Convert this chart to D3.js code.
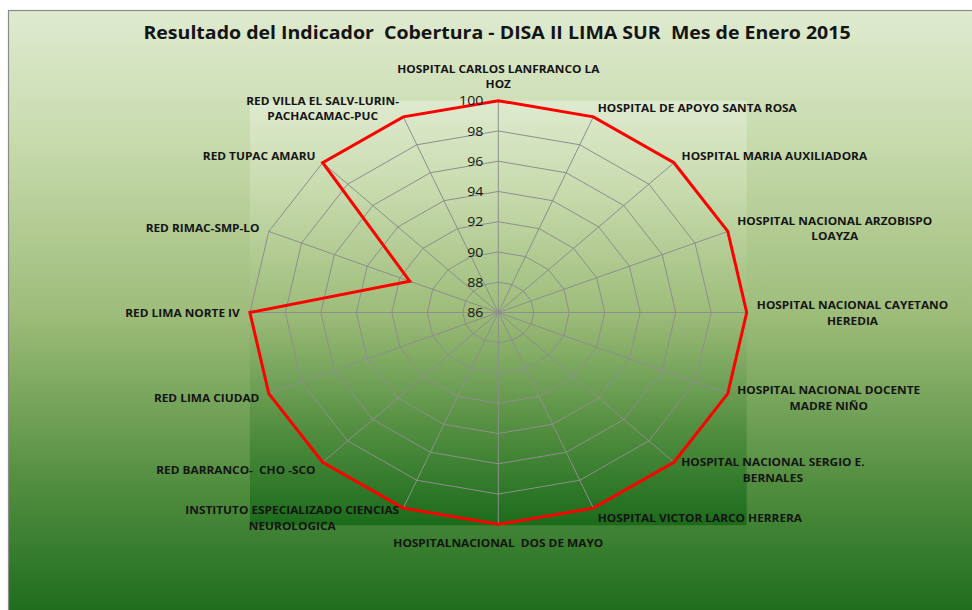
<!DOCTYPE html>
<html>
<head>
<meta charset="utf-8">
<script src="https://cdn.jsdelivr.net/npm/d3@7.9.0/dist/d3.min.js"></script>
<style>
  html, body { margin: 0; padding: 0; background: #fff; }
  svg text { font-family: "Open Sans", "Liberation Sans", sans-serif; fill: #141414; white-space: pre; }
</style>
</head>
<body>
<svg id="chart" width="972" height="610"></svg>
<script>
// categories, clockwise from the top ("\n" = line break as in the original labels)
const categories = [
  'HOSPITAL CARLOS LANFRANCO LA\nHOZ',
  'HOSPITAL DE APOYO SANTA ROSA',
  'HOSPITAL MARIA AUXILIADORA',
  'HOSPITAL NACIONAL ARZOBISPO\nLOAYZA',
  'HOSPITAL NACIONAL CAYETANO\nHEREDIA',
  'HOSPITAL NACIONAL DOCENTE\nMADRE NIÑO',
  'HOSPITAL NACIONAL SERGIO E.\nBERNALES',
  'HOSPITAL VICTOR LARCO HERRERA',
  'HOSPITALNACIONAL  DOS DE MAYO',
  'INSTITUTO ESPECIALIZADO CIENCIAS\nNEUROLOGICA',
  'RED BARRANCO-  CHO -SCO',
  'RED LIMA CIUDAD',
  'RED LIMA NORTE IV',
  'RED RIMAC-SMP-LO',
  'RED TUPAC AMARU',
  'RED VILLA EL SALV-LURIN-\nPACHACAMAC-PUC'
];
const cobertura = [100, 100, 100, 100, 100, 100, 100, 100, 100, 100, 100, 100, 100, 91.4, 100, 100];
const ticks = [86, 88, 90, 92, 94, 96, 98, 100];
const title = 'Resultado del Indicador  Cobertura - DISA II LIMA SUR  Mes de Enero 2015';

const svg = d3.select('#chart');
const W = 972, H = 610;
const cx = 498.3, cy = 312.5, rx = 248.4, ry = 211.8;
const sx = 1.13; // text is horizontally stretched in the original

// background gradient
const defs = svg.append('defs');
const grad = defs.append('linearGradient').attr('id', 'bg').attr('x1', 0).attr('y1', 0).attr('x2', 0).attr('y2', 1);
[[0, '#dfeacf'], [0.2, '#c9dcaf'], [0.5, '#9dbc79'], [0.78, '#518d3f'], [1, '#1b6b1b']]
  .forEach(([o, c]) => grad.append('stop').attr('offset', o).attr('stop-color', c));

svg.append('rect').attr('x', 8.5).attr('y', 10.5).attr('width', W).attr('height', H)
  .attr('fill', 'url(#bg)').attr('stroke', '#8c8c8c').attr('stroke-width', 1.2);

// plot area
svg.append('rect').attr('x', cx - rx).attr('y', cy - ry).attr('width', 2 * rx).attr('height', 2 * ry + 1)
  .attr('fill', 'url(#bg)');

// scales
const r = d3.scaleLinear().domain([86, 100]).range([0, 1]);
const angle = d3.scalePoint().domain(d3.range(categories.length)).range([0, 2 * Math.PI * (categories.length - 1) / categories.length]);
const px = (i, v) => cx + rx * r(v) * Math.sin(angle(i));
const py = (i, v) => cy - ry * r(v) * Math.cos(angle(i));

const idx = d3.range(categories.length);
const ring = d3.line().curve(d3.curveLinearClosed);

// grid rings
svg.append('g').selectAll('path').data(ticks.slice(1)).join('path')
  .attr('d', t => ring(idx.map(i => [px(i, t), py(i, t)])))
  .attr('fill', 'none').attr('stroke', '#8e8e8e').attr('stroke-width', 1);

// spokes
svg.append('g').selectAll('line').data(idx).join('line')
  .attr('x1', cx).attr('y1', cy)
  .attr('x2', i => px(i, 100)).attr('y2', i => py(i, 100))
  .attr('stroke', '#8e8e8e').attr('stroke-width', 1);

// data line
svg.append('path')
  .attr('d', ring(idx.map(i => [px(i, cobertura[i]), py(i, cobertura[i])])))
  .attr('fill', 'none').attr('stroke', '#ff0000').attr('stroke-width', 3).attr('stroke-linejoin', 'miter');

// tick labels
svg.append('g').selectAll('text').data(ticks).join('text')
  .attr('transform', t => `translate(${cx - 15},${py(0, t)}) scale(${sx},1)`)
  .attr('text-anchor', 'end').attr('dominant-baseline', 'central')
  .attr('font-size', 12.5).text(t => t);

// category labels
const lh = 15.5;
const labels = svg.append('g');
idx.forEach(i => {
  const a = angle(i), s = Math.sin(a), c = Math.cos(a);
  const lines = categories[i].split('\n');
  const n = lines.length;
  const g = labels.append('g');
  const t = g.append('text').attr('text-anchor', 'middle').attr('dominant-baseline', 'central')
    .attr('font-size', 10.5).attr('font-weight', 'bold');
  lines.forEach((ln, j) => t.append('tspan').attr('x', 0).attr('y', j * lh - (n - 1) * lh / 2).text(ln));
  const w = t.node().getBBox().width * sx;
  const ax = px(i, 100) + 10 * s, ay = py(i, 100) - 10 * c;
  let bx = ax, by = ay;
  if (s > 0.1) bx = ax + w / 2;
  else if (s < -0.1) bx = ax - w / 2;
  if (c > 0.97) by = ay - (n - 1) * lh / 2 - 7;
  else if (c < -0.97) by = ay + (n - 1) * lh / 2 + 8;
  g.attr('transform', `translate(${bx},${by}) scale(${sx},1)`);
});

// title
svg.append('text')
  .attr('transform', `translate(497,31.5) scale(${sx},1)`)
  .attr('text-anchor', 'middle').attr('dominant-baseline', 'central')
  .attr('font-size', 17.3).attr('font-weight', 'bold').text(title);
</script>
</body>
</html>
